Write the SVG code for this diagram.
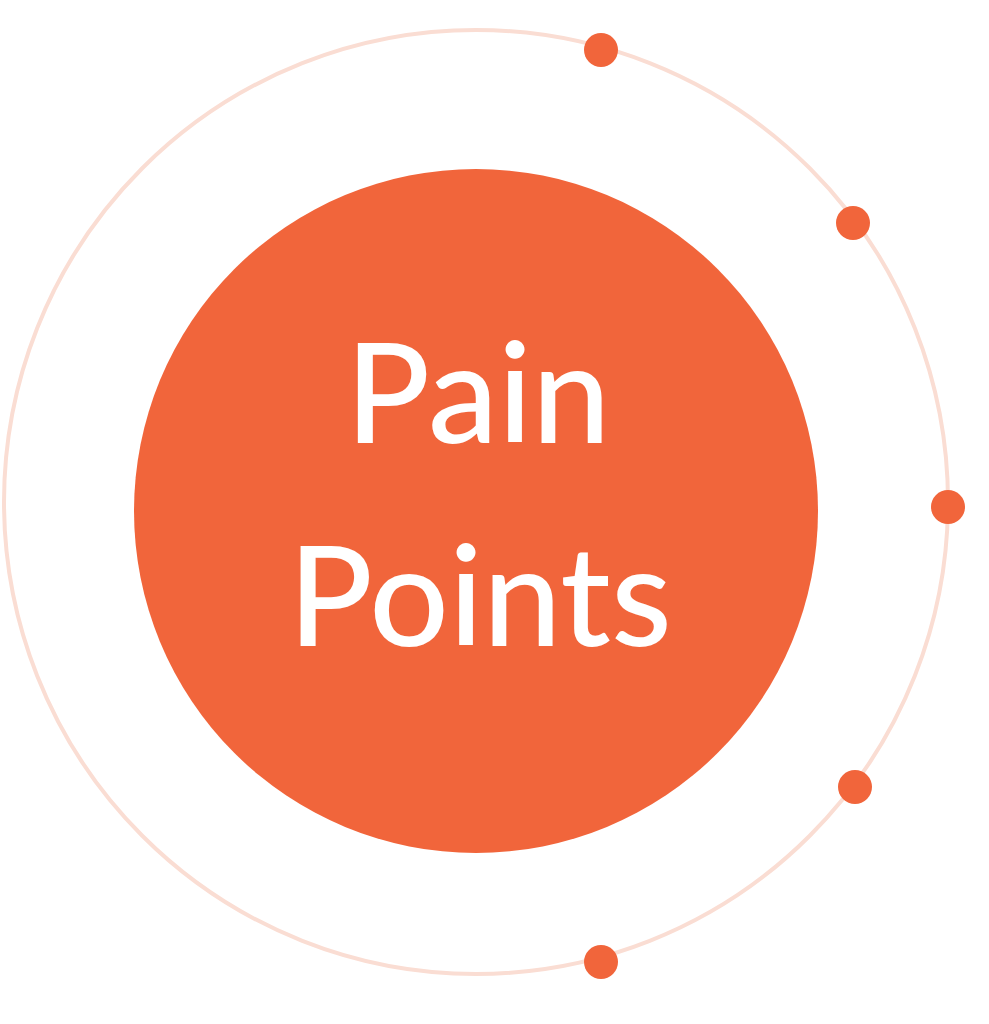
<svg xmlns="http://www.w3.org/2000/svg" width="989" height="1024" viewBox="0 0 989 1024">
<style>
.dot{fill:#F1653B}
.lbl{font-family:Lato,Roboto,"Liberation Sans",sans-serif;font-weight:500;font-size:140px;fill:#FFFFFF;text-anchor:middle}
</style>
<rect width="989" height="1024" fill="#FFFFFF"/>
<g id="ring"><circle cx="476" cy="502" r="472" fill="none" stroke="#FADDD3" stroke-width="4"/></g>
<g id="center"><circle cx="476" cy="511" r="342" fill="#F1653B"/>
<text class="lbl" x="478" y="443">Pain</text>
<text class="lbl" x="480" y="646">Points</text></g>
<g id="dot1"><circle class="dot" cx="601" cy="50" r="17"/></g>
<g id="dot2"><circle class="dot" cx="853" cy="223" r="17"/></g>
<g id="dot3"><circle class="dot" cx="948" cy="507" r="17"/></g>
<g id="dot4"><circle class="dot" cx="855" cy="787" r="17"/></g>
<g id="dot5"><circle class="dot" cx="601" cy="962" r="17"/></g>
</svg>
